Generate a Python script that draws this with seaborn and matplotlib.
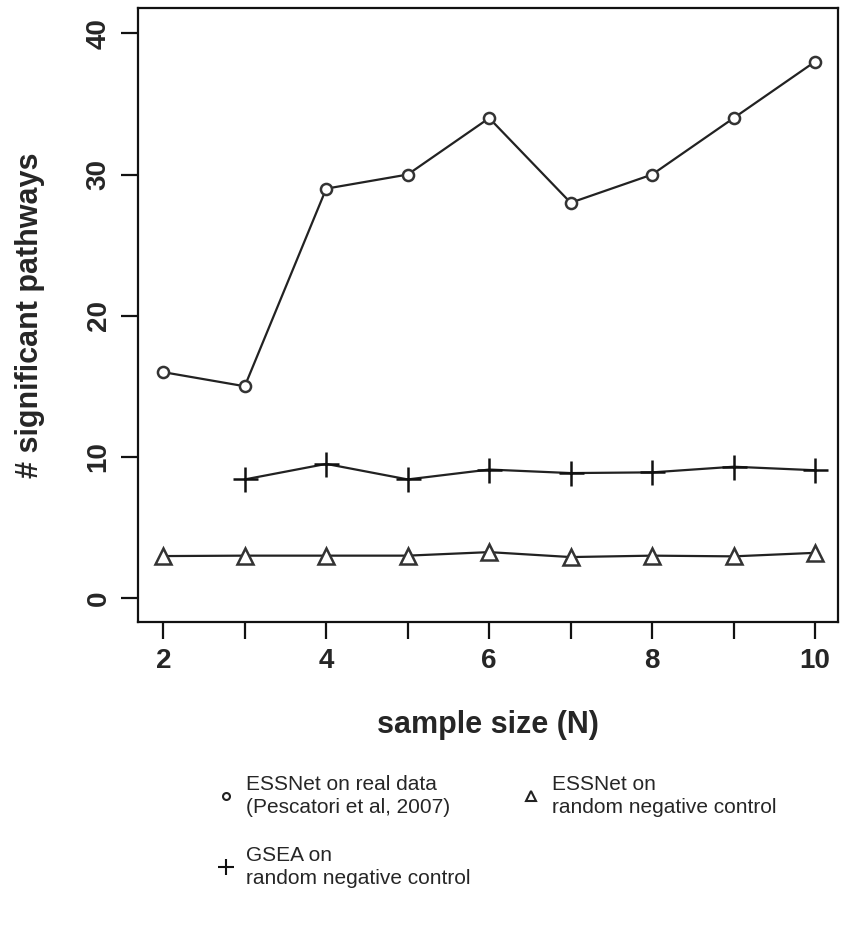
import numpy as np
import pandas as pd
import matplotlib
matplotlib.use("Agg")
import matplotlib.pyplot as plt
from matplotlib.lines import Line2D
import seaborn as sns

# data
sample_size = [2, 3, 4, 5, 6, 7, 8, 9, 10]
essnet_real = [16, 15, 29, 30, 34, 28, 30, 34, 38]
gsea_size = [3, 4, 5, 6, 7, 8, 9, 10]
gsea_random = [8.4, 9.5, 8.4, 9.1, 8.85, 8.9, 9.3, 9.05]
essnet_random = [2.97, 3.0, 3.0, 3.0, 3.25, 2.9, 3.0, 2.95, 3.2]

labels = ["ESSNet on real data\n(Pescatori et al, 2007)",
          "GSEA on\nrandom negative control",
          "ESSNet on\nrandom negative control"]

sns.set_style("ticks")
plt.rcParams["font.family"] = ["Liberation Sans", "DejaVu Sans"]

fig = plt.figure(figsize=(8.43, 9.26), dpi=100)
ax = fig.add_axes([0.1637, 0.3283, 0.8303, 0.6631])

sns.lineplot(x=sample_size, y=essnet_real, ax=ax, color="#222222", lw=1.6,
             marker="o", markersize=8, markerfacecolor="white",
             markeredgecolor="#333333", markeredgewidth=1.8)
sns.lineplot(x=gsea_size, y=gsea_random, ax=ax, color="#222222", lw=1.6,
             marker="+", markersize=18, markeredgewidth=1.8,
             markeredgecolor="#111111")
sns.lineplot(x=sample_size, y=essnet_random, ax=ax, color="#222222", lw=1.6,
             marker="^", markersize=11, markerfacecolor="white",
             markeredgecolor="#333333", markeredgewidth=1.8)

ax.set_xlim(1.69, 10.28)
ax.set_ylim(-1.7, 41.8)
ax.set_xticks(range(2, 11))
ax.set_xticklabels([str(v) if v % 2 == 0 else "" for v in range(2, 11)])
ax.set_yticks([0, 10, 20, 30, 40])
ax.set_yticklabels(["0", "10", "20", "30", "40"], rotation=90, va="center")

for sp in ax.spines.values():
    sp.set_linewidth(1.6)
    sp.set_color("#111111")
ax.tick_params(axis="both", length=12, width=1.6, color="#111111",
               labelsize=20, pad=7)
for t in ax.get_xticklabels() + ax.get_yticklabels():
    t.set_fontweight("bold")

ax.set_xlabel("sample size (N)", fontsize=22, fontweight="bold", labelpad=26)
ax.set_ylabel("# significant pathways", fontsize=22, fontweight="bold")
ax.yaxis.set_label_coords(-0.133, 0.5)

handles = [
    Line2D([], [], ls="none", marker="o", markersize=5, markerfacecolor="white",
           markeredgecolor="#222222", markeredgewidth=1.5),
    Line2D([], [], ls="none", marker="+", markersize=12, markeredgewidth=1.5,
           markeredgecolor="#111111"),
    Line2D([], [], ls="none", marker="^", markersize=7, markerfacecolor="white",
           markeredgecolor="#222222", markeredgewidth=1.5),
]
leg = fig.legend(handles, labels, ncol=2, loc="upper left",
                 bbox_to_anchor=(0.233, 0.183), frameon=False, fontsize=15,
                 handletextpad=0.5, columnspacing=2.4, labelspacing=1.4,
                 handlelength=1.0)
for t in leg.get_texts():
    t.set_linespacing(1.25)

fig.savefig("out.png", dpi=100)
